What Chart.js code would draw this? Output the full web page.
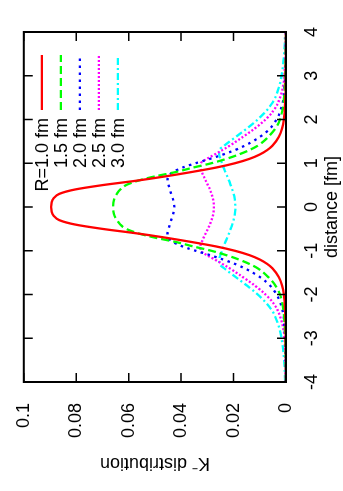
<!DOCTYPE html>
<html>
<head>
<meta charset="utf-8">
<script src="https://cdn.jsdelivr.net/npm/chart.js@4.4.0/dist/chart.umd.min.js"></script>
<style>
html, body { margin: 0; padding: 0; background: #fff; overflow: hidden; }
/* gnuplot page is rotated: draw landscape, turn it a quarter counter-clockwise */
#wrap { position: absolute; left: 0; top: 0; width: 491px; height: 343px;
        transform-origin: 0 0; transform: translate(0, 491px) rotate(-90deg); }
</style>
</head>
<body>
<div id="wrap"><canvas id="kaon_chart" width="491" height="343"></canvas></div>
<script>
// distance [fm]
var distance = [-4, -3.6, -3.2, -2.8, -2.4, -2.2, -2, -1.8, -1.6, -1.4, -1.3, -1.2, -1.1, -1, -0.9, -0.8, -0.7, -0.6, -0.5, -0.4, -0.3, -0.2, -0.1,
	0, 0.1, 0.2, 0.3, 0.4, 0.5, 0.6, 0.7, 0.8, 0.9, 1, 1.1, 1.2, 1.3, 1.4, 1.6, 1.8, 2, 2.2, 2.4, 2.8, 3.2, 3.6, 4];

// K- distribution for each R
var r10 = [0, 0, 0.0001, 0.0001, 0.0003, 0.0005, 0.0008, 0.0015, 0.0028, 0.0052, 0.0072, 0.0100, 0.0140, 0.0195, 0.0268, 0.0360, 0.0460, 0.0572, 0.0700, 0.0805, 0.0865, 0.0886, 0.0894,
	0.0896, 0.0894, 0.0886, 0.0865, 0.0805, 0.0700, 0.0572, 0.0460, 0.0360, 0.0268, 0.0195, 0.0140, 0.0100, 0.0072, 0.0052, 0.0028, 0.0015, 0.0008, 0.0005, 0.0003, 0.0001, 0.0001, 0, 0];
var r15 = [0, 0.0001, 0.0002, 0.0004, 0.0009, 0.0014, 0.0023, 0.0040, 0.0068, 0.0108, 0.0140, 0.0180, 0.0228, 0.0285, 0.0355, 0.0420, 0.0500, 0.0565, 0.0610, 0.0632, 0.0645, 0.0654, 0.0658,
	0.0659, 0.0658, 0.0654, 0.0645, 0.0632, 0.0610, 0.0565, 0.0500, 0.0420, 0.0355, 0.0285, 0.0228, 0.0180, 0.0140, 0.0108, 0.0068, 0.0040, 0.0023, 0.0014, 0.0009, 0.0004, 0.0002, 0.0001, 0];
var r20 = [0, 0.0001, 0.0002, 0.0005, 0.0012, 0.0021, 0.0036, 0.0060, 0.0100, 0.0158, 0.0195, 0.0240, 0.0290, 0.0345, 0.0395, 0.0430, 0.0450, 0.0452, 0.0448, 0.0443, 0.0438, 0.0432, 0.0428,
	0.0426, 0.0428, 0.0432, 0.0438, 0.0443, 0.0448, 0.0452, 0.0450, 0.0430, 0.0395, 0.0345, 0.0290, 0.0240, 0.0195, 0.0158, 0.0100, 0.0060, 0.0036, 0.0021, 0.0012, 0.0005, 0.0002, 0.0001, 0];
var r25 = [0.0001, 0.0002, 0.0004, 0.0010, 0.0029, 0.0048, 0.0078, 0.0118, 0.0165, 0.0215, 0.0243, 0.0272, 0.0302, 0.0325, 0.0327, 0.0321, 0.0314, 0.0306, 0.0298, 0.0290, 0.0284, 0.0279, 0.0276,
	0.0275, 0.0276, 0.0279, 0.0284, 0.0290, 0.0298, 0.0306, 0.0314, 0.0321, 0.0327, 0.0325, 0.0302, 0.0272, 0.0243, 0.0215, 0.0165, 0.0118, 0.0078, 0.0048, 0.0029, 0.0010, 0.0004, 0.0002, 0.0001];
var r30 = [0.0003, 0.0006, 0.0012, 0.0024, 0.0050, 0.0075, 0.0108, 0.0148, 0.0192, 0.0236, 0.0254, 0.0255, 0.0250, 0.0244, 0.0238, 0.0231, 0.0224, 0.0217, 0.0211, 0.0205, 0.0200, 0.0196, 0.0194,
	0.0193, 0.0194, 0.0196, 0.0200, 0.0205, 0.0211, 0.0217, 0.0224, 0.0231, 0.0238, 0.0244, 0.0250, 0.0255, 0.0254, 0.0236, 0.0192, 0.0148, 0.0108, 0.0075, 0.0050, 0.0024, 0.0012, 0.0006, 0.0003];

var seriesLabels = ['R=1.0 fm', '1.5 fm', '2.0 fm', '2.5 fm', '3.0 fm'];
var xTicks = [-4, -3, -2, -1, 0, 1, 2, 3, 4];
var yTicks = [0, 0.02, 0.04, 0.06, 0.08, 0.1];

var FONT = 'Liberation Sans, Arial, Helvetica, sans-serif';

function toPoints(values) {
	return values.map(function (v, i) { return { x: distance[i], y: v }; });
}

// gnuplot style frame with inward ticks on all four sides
var frameTicks = {
	id: 'frameTicks',
	afterDatasetsDraw: function (chart) {
		var ctx = chart.ctx, a = chart.chartArea;
		var xs = chart.scales.x, ys = chart.scales.y;
		ctx.save();
		ctx.strokeStyle = '#000';
		ctx.lineWidth = 1.5;
		ctx.beginPath();
		xTicks.forEach(function (t) {
			var px = xs.getPixelForValue(t);
			ctx.moveTo(px, a.bottom); ctx.lineTo(px, a.bottom - 9);
			ctx.moveTo(px, a.top); ctx.lineTo(px, a.top + 9);
		});
		yTicks.forEach(function (t) {
			var py = ys.getPixelForValue(t);
			ctx.moveTo(a.left, py); ctx.lineTo(a.left + 9, py);
			ctx.moveTo(a.right, py); ctx.lineTo(a.right - 9, py);
		});
		ctx.stroke();
		ctx.lineWidth = 2;
		ctx.strokeRect(a.left, a.top, a.right - a.left, a.bottom - a.top);
		ctx.restore();
	}
};

// key: label right aligned, sample line to the right of it
var keyBox = {
	id: 'keyBox',
	afterDatasetsDraw: function (chart, args, opts) {
		var ctx = chart.ctx, a = chart.chartArea;
		ctx.save();
		ctx.font = opts.font;
		ctx.textAlign = 'right';
		ctx.textBaseline = 'middle';
		chart.data.datasets.forEach(function (ds, i) {
			var y = a.top + opts.top + i * opts.rowGap;
			ctx.fillStyle = '#000';
			ctx.fillText(ds.label, a.right - opts.textEnd, y + 1);
			ctx.strokeStyle = ds.borderColor;
			ctx.lineWidth = ds.borderWidth;
			ctx.setLineDash(ds.borderDash || []);
			ctx.beginPath();
			ctx.moveTo(a.right - opts.lineStart, y);
			ctx.lineTo(a.right - opts.lineEnd, y);
			ctx.stroke();
		});
		ctx.restore();
	}
};

function makeSet(label, values, color, dash) {
	return {
		label: label,
		data: toPoints(values),
		borderColor: color,
		borderWidth: 2.3,
		borderDash: dash,
		borderCapStyle: 'butt',
		pointRadius: 0,
		fill: false,
		cubicInterpolationMode: 'monotone'
	};
}

var kaonChart = new Chart(document.getElementById('kaon_chart'), {
	type: 'line',
	data: {
		datasets: [
			makeSet(seriesLabels[0], r10, '#ff0000', []),
			makeSet(seriesLabels[1], r15, '#00ff00', [8, 4]),
			makeSet(seriesLabels[2], r20, '#0000ff', [2.5, 4.5]),
			makeSet(seriesLabels[3], r25, '#ff00ff', [2, 2]),
			makeSet(seriesLabels[4], r30, '#00ffff', [7, 3, 2, 3])
		]
	},
	options: {
		responsive: false,
		animation: false,
		layout: { padding: { top: 23, right: 32, left: 0, bottom: 0 } },
		plugins: {
			legend: { display: false },
			tooltip: { enabled: false },
			keyBox: { font: '18px ' + FONT, top: 18, rowGap: 19, textEnd: 86, lineStart: 78, lineEnd: 23 }
		},
		scales: {
			x: {
				type: 'linear',
				min: -4,
				max: 4,
				afterFit: function (scale) { scale.height = 57; },
				afterBuildTicks: function (scale) { scale.ticks = xTicks.map(function (v) { return { value: v }; }); },
				grid: { display: false },
				border: { display: false },
				ticks: { color: '#000', font: { family: FONT, size: 18 }, padding: 7, maxRotation: 0 },
				title: { display: true, text: 'distance [fm]', color: '#000', font: { family: FONT, size: 18 }, padding: { top: 0, bottom: 0 } }
			},
			y: {
				type: 'linear',
				min: 0,
				max: 0.1,
				afterFit: function (scale) { scale.width = 109; },
				afterBuildTicks: function (scale) { scale.ticks = yTicks.map(function (v) { return { value: v }; }); },
				grid: { display: false },
				border: { display: false },
				ticks: {
					color: '#000',
					font: { family: FONT, size: 18 },
					padding: 13,
					callback: function (v) { return String(+v.toFixed(2)); }
				},
				title: { display: true, text: 'K\u207B distribution', color: '#000', font: { family: FONT, size: 18 }, padding: { top: 17, bottom: 0 } }
			}
		}
	},
	plugins: [frameTicks, keyBox]
});
</script>
</body>
</html>
